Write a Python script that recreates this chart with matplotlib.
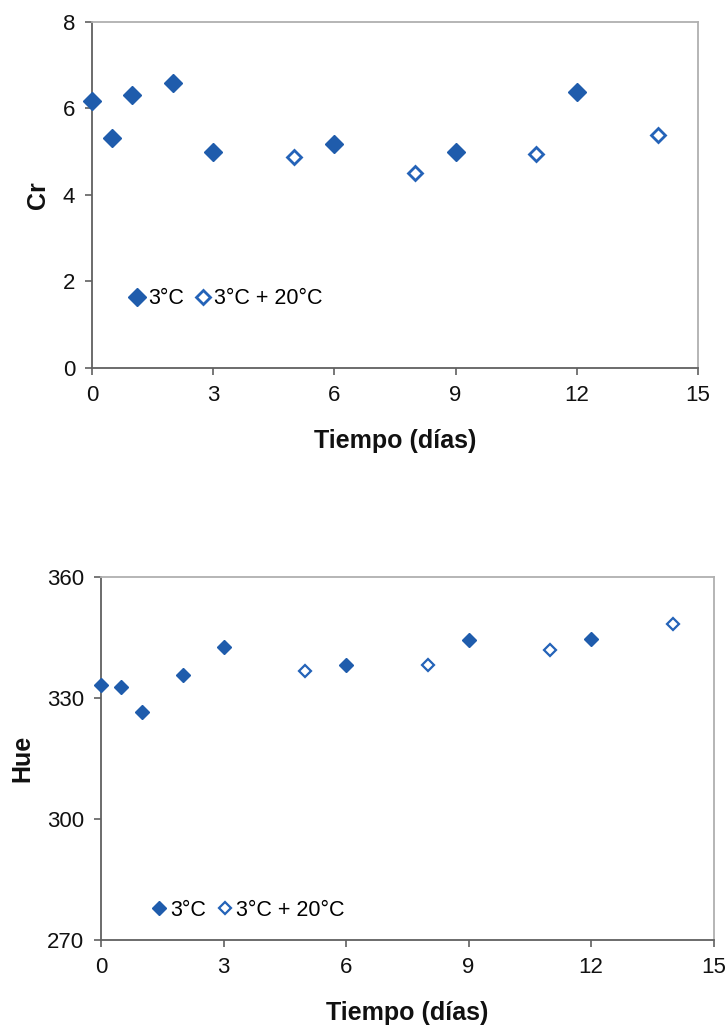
import matplotlib
matplotlib.use("Agg")
import matplotlib.pyplot as plt

plt.rcParams['font.family'] = ['Liberation Sans', 'DejaVu Sans']

# Cr panel
cr_x_cold = [0, 0.5, 1, 2, 3, 6, 9, 12]
cr_y_cold = [6.17, 5.30, 6.30, 6.57, 4.98, 5.17, 4.98, 6.38]
cr_x_warm = [5, 8, 11, 14]
cr_y_warm = [4.88, 4.51, 4.95, 5.38]

# Hue panel
hue_x_cold = [0, 0.5, 1, 2, 3, 6, 9, 12]
hue_y_cold = [333.1, 332.6, 326.5, 335.6, 342.7, 338.1, 344.2, 344.6]
hue_x_warm = [5, 8, 11, 14]
hue_y_warm = [336.6, 338.2, 341.8, 348.3]

x_ticks = [0, 3, 6, 9, 12, 15]
cr_ticks = [0, 2, 4, 6, 8]
hue_ticks = [270, 300, 330, 360]
labels = ['3°C', '3°C + 20°C']

blue = '#1F5CAC'
blue_edge = '#2463B8'

fig = plt.figure(figsize=(7.26, 10.30), dpi=100)
ax1 = fig.add_axes([0.1267, 0.6427, 0.9614 - 0.1267, 0.9791 - 0.6427])
ax2 = fig.add_axes([0.1391, 0.0874, 0.983 - 0.1391, 0.4401 - 0.0874])


def style(ax, yticks, ylabel, ylabel_pad):
    ax.set_xlim(0, 15)
    ax.set_xticks(x_ticks)
    ax.set_ylim(yticks[0], yticks[-1])
    ax.set_yticks(yticks)
    for s in ['left', 'bottom']:
        ax.spines[s].set_color('#606060')
        ax.spines[s].set_linewidth(1.3)
    for s in ['top', 'right']:
        ax.spines[s].set_color('#b0b0b0')
        ax.spines[s].set_linewidth(1.3)
    ax.tick_params(axis='both', direction='out', length=5, width=1.2,
                   color='#606060', labelsize=16, labelcolor='#111111', pad=7)
    ax.set_xlabel('Tiempo (días)', fontsize=18, fontweight='bold', labelpad=17,
                  color='#111111')
    ax.set_ylabel(ylabel, fontsize=18, fontweight='bold', labelpad=ylabel_pad,
                  color='#111111')


# Top
h1, = ax1.plot(cr_x_cold, cr_y_cold, linestyle='none', marker='D', markersize=9,
               color=blue, markeredgecolor=blue, clip_on=False, zorder=5)
h2, = ax1.plot(cr_x_warm, cr_y_warm, linestyle='none', marker='D', markersize=7,
               markerfacecolor='white', markeredgecolor=blue_edge, markeredgewidth=2,
               clip_on=False, zorder=5)
style(ax1, cr_ticks, 'Cr', 9)
ax1.legend([h1, h2], labels, ncol=2, frameon=False, fontsize=15.5,
           loc='center left', bbox_to_anchor=(0.032, 0.2),
           handlelength=0.6, handletextpad=0.2, columnspacing=0.6)

# Bottom
g1, = ax2.plot(hue_x_cold, hue_y_cold, linestyle='none', marker='D', markersize=7.5,
               color=blue, markeredgecolor=blue, clip_on=False, zorder=5)
g2, = ax2.plot(hue_x_warm, hue_y_warm, linestyle='none', marker='D', markersize=6.5,
               markerfacecolor='white', markeredgecolor=blue_edge, markeredgewidth=1.6,
               clip_on=False, zorder=5)
style(ax2, hue_ticks, 'Hue', 9)
ax2.legend([g1, g2], labels, ncol=2, frameon=False, fontsize=15.5,
           loc='center left', bbox_to_anchor=(0.053, 0.082),
           handlelength=0.6, handletextpad=0.2, columnspacing=0.6)

fig.savefig('out.png', dpi=100, facecolor='white')
